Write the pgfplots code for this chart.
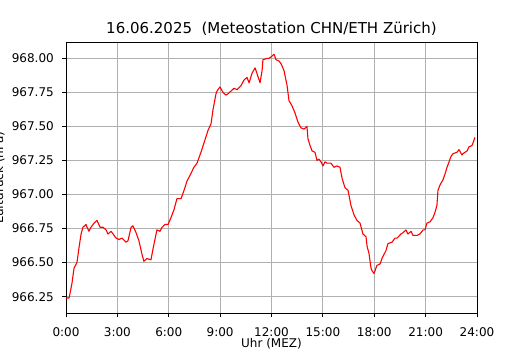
\documentclass[border=0pt]{standalone}
\usepackage{pgfplots}
\pgfplotsset{compat=1.18}
\usepackage{pgfplotstable}
\usepackage{fontspec}
\setmainfont{DejaVu Sans}
\definecolor{gridc}{HTML}{B0B0B0}
\pgfplotstableread{
h p
0.00 966.24
0.06 966.24
0.18 966.24
0.29 966.31
0.35 966.35
0.47 966.46
0.64 966.50
0.76 966.61
0.88 966.71
0.99 966.76
1.17 966.78
1.23 966.76
1.34 966.73
1.46 966.76
1.64 966.79
1.81 966.81
1.99 966.76
2.16 966.76
2.34 966.74
2.45 966.71
2.63 966.73
2.75 966.71
2.92 966.68
3.10 966.67
3.27 966.68
3.50 966.65
3.62 966.66
3.80 966.76
3.91 966.77
4.09 966.72
4.26 966.66
4.44 966.56
4.55 966.51
4.73 966.53
4.96 966.52
5.08 966.60
5.31 966.74
5.49 966.73
5.61 966.76
5.78 966.78
5.96 966.78
6.13 966.83
6.31 966.89
6.48 966.97
6.72 966.97
6.89 967.03
7.07 967.10
7.24 967.14
7.47 967.20
7.65 967.23
7.88 967.31
8.06 967.38
8.29 967.47
8.47 967.52
8.58 967.62
8.76 967.74
8.82 967.76
8.99 967.79
9.17 967.75
9.34 967.73
9.46 967.74
9.64 967.76
9.81 967.78
9.99 967.77
10.22 967.80
10.39 967.84
10.57 967.86
10.69 967.82
10.86 967.89
11.04 967.93
11.15 967.89
11.33 967.82
11.45 967.91
11.50 967.99
11.74 968.00
11.85 968.00
11.97 968.01
12.15 968.03
12.26 967.99
12.44 967.98
12.56 967.96
12.73 967.91
12.91 967.80
13.02 967.69
13.20 967.65
13.37 967.60
13.55 967.53
13.72 967.49
13.90 967.48
14.07 967.50
14.13 967.41
14.25 967.36
14.37 967.32
14.54 967.31
14.66 967.25
14.77 967.26
14.89 967.24
15.01 967.21
15.12 967.24
15.24 967.23
15.47 967.23
15.65 967.20
15.82 967.21
16.00 967.20
16.12 967.12
16.29 967.05
16.47 967.03
16.64 966.92
16.82 966.85
16.99 966.81
17.17 966.79
17.34 966.71
17.52 966.69
17.58 966.62
17.69 966.57
17.81 966.46
17.87 966.44
17.99 966.42
18.10 966.46
18.16 966.48
18.34 966.49
18.45 966.53
18.69 966.59
18.80 966.64
19.04 966.65
19.21 966.68
19.33 966.68
19.56 966.71
19.68 966.72
19.85 966.74
19.97 966.71
20.15 966.73
20.26 966.70
20.50 966.70
20.67 966.71
20.85 966.74
20.96 966.74
21.08 966.79
21.26 966.80
21.43 966.83
21.55 966.87
21.66 966.92
21.72 967.03
21.84 967.07
22.02 967.11
22.13 967.15
22.25 967.20
22.37 967.24
22.48 967.28
22.60 967.30
22.83 967.31
22.95 967.33
23.12 967.29
23.18 967.30
23.42 967.32
23.53 967.35
23.71 967.36
23.77 967.38
23.88 967.42
}\pres
\begin{document}
\begin{tikzpicture}
\useasboundingbox (-66bp,-37bp) rectangle (464bp,313bp);
\begin{axis}[
  scale only axis,
  width=411bp, height=271bp,
  xmin=0, xmax=24, ymin=966.13, ymax=968.12,
  xtick={0,3,6,9,12,15,18,21,24},
  xticklabels={0:00,3:00,6:00,9:00,12:00,15:00,18:00,21:00,24:00},
  ytick={966.25,966.5,966.75,967,967.25,967.5,967.75,968},
  yticklabel style={/pgf/number format/fixed, /pgf/number format/fixed zerofill, /pgf/number format/precision=2, /pgf/number format/1000 sep={}, anchor=east, inner sep=0pt, xshift=-8bp},
  /pgf/number format/assume math mode=true,
  tick pos=left,
  tick align=outside,
  major tick length=4bp,
  tick style={black, line width=0.9bp},
  axis line style={black, line width=0.9bp},
  grid=major,
  major grid style={gridc, line width=0.9bp},
  font=\fontsize{12bp}{14bp}\selectfont,
  xticklabel style={anchor=base, inner sep=0pt, yshift=-19.5bp},
  title={16.06.2025\ \ (Meteostation CHN/ETH Zürich)},
  title style={at={(axis description cs:0.5,1)}, anchor=base, inner sep=0pt, yshift=2.5bp, font=\fontsize{15bp}{18bp}\selectfont},
  xlabel={Uhr (MEZ)},
  xlabel style={at={(axis description cs:0.5,0)}, anchor=base, inner sep=0pt, yshift=-34.5bp},
  ylabel={Luftdruck (hPa)},
  ylabel style={at={(axis description cs:0,0.5)}, anchor=south, inner sep=0pt, yshift=61bp},
]
\addplot[red, line width=1.1bp, line join=round] table[x=h, y=p] {\pres};
\end{axis}
\end{tikzpicture}
\end{document}
